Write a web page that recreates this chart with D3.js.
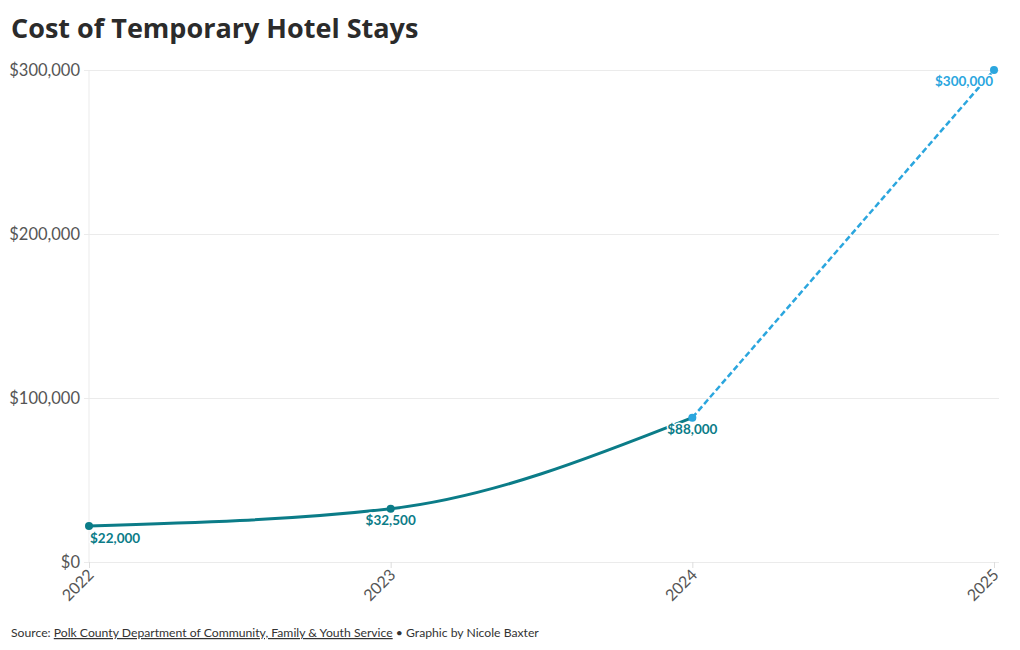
<!DOCTYPE html>
<html>
<head>
<meta charset="utf-8">
<script src="https://cdn.jsdelivr.net/npm/d3@7/dist/d3.min.js"></script>
<style>
  body { margin: 0; background: #fff; }
  svg { display: block; }
</style>
</head>
<body>
<svg id="chart" width="1020" height="650"></svg>
<script>
// data
const years = ["2022", "2023", "2024", "2025"];
const costs = [22000, 32500, 88000, 300000];
const yTicks = [0, 100000, 200000, 300000];
// index where the projected (dashed) part begins
const projectedFrom = 2;

const teal = "#0b7c88";
const blue = "#2ba6de";

var margin = { top: 70, right: 26, bottom: 88, left: 89 },
    width = 1020 - margin.left - margin.right,
    height = 650 - margin.top - margin.bottom;

const svg = d3.select("#chart");

svg.append("text")
    .attr("x", 11)
    .attr("y", 38)
    .text("Cost of Temporary Hotel Stays")
    .style("font-family", "'Open Sans', sans-serif")
    .style("font-size", "27px")
    .style("font-weight", "bold")
    .style("fill", "#2b2b2b");

const g = svg.append("g")
    .attr("transform", `translate(${margin.left}, ${margin.top})`);

const x = d3.scalePoint().domain(years).range([0, width]);
const y = d3.scaleLinear().domain([0, 300000]).range([height, 0]);

const data = years.map((yr, i) => ({ year: yr, value: costs[i], i: i }));

// grid
g.append("g")
    .call(d3.axisLeft(y).tickValues(yTicks).tickSize(-width - 5).tickFormat(d3.format("$,")))
    .call(a => a.select(".domain").remove())
    .call(a => a.selectAll(".tick line").attr("stroke", "#ebebeb").attr("x1", -5))
    .call(a => a.selectAll(".tick text")
        .attr("x", -9)
        .attr("dy", "0.35em")
        .style("font-family", "Lato, sans-serif")
        .style("font-size", "16.5px")
        .style("fill", "#555"));

g.append("line")
    .attr("x1", 0).attr("x2", 0)
    .attr("y1", 0).attr("y2", height)
    .attr("stroke", "#ebebeb");

g.append("g")
    .attr("transform", `translate(0, ${height})`)
    .call(d3.axisBottom(x).tickSize(6))
    .call(a => a.select(".domain").remove())
    .call(a => a.selectAll(".tick line").attr("stroke", "#ddd"))
    .call(a => a.selectAll(".tick text")
        .attr("text-anchor", "end")
        .attr("transform", "rotate(-45)")
        .attr("x", -6)
        .attr("y", 8)
        .attr("dy", "0.35em")
        .style("font-family", "Lato, sans-serif")
        .style("font-size", "16px")
        .style("fill", "#555"));

// lines
const line = d3.line()
    .x(d => x(d.year))
    .y(d => y(d.value))
    .curve(d3.curveMonotoneX);

g.append("path")
    .datum(data.slice(0, projectedFrom + 1))
    .attr("fill", "none")
    .attr("stroke", teal)
    .attr("stroke-width", 3)
    .attr("d", line);

g.append("path")
    .datum(data.slice(projectedFrom))
    .attr("fill", "none")
    .attr("stroke", blue)
    .attr("stroke-width", 2.5)
    .attr("stroke-dasharray", "6,3")
    .attr("d", d3.line().x(d => x(d.year)).y(d => y(d.value)));

g.selectAll("circle.pt")
    .data(data)
    .enter()
    .append("circle")
    .attr("class", "pt")
    .attr("cx", d => x(d.year))
    .attr("cy", d => y(d.value))
    .attr("r", 4)
    .attr("fill", d => d.i >= projectedFrom ? blue : teal);

// value labels
const labelPos = [
    { dx: 1, dy: 17, anchor: "start" },
    { dx: 0, dy: 16, anchor: "middle" },
    { dx: 0, dy: 16, anchor: "middle" },
    { dx: -1, dy: 16, anchor: "end" }
];

g.selectAll("text.val")
    .data(data)
    .enter()
    .append("text")
    .attr("class", "val")
    .attr("x", d => x(d.year) + labelPos[d.i].dx)
    .attr("y", d => y(d.value) + labelPos[d.i].dy)
    .attr("text-anchor", d => labelPos[d.i].anchor)
    .text(d => d3.format("$,")(d.value))
    .style("font-family", "Lato, sans-serif")
    .style("font-size", "13.5px")
    .style("font-weight", "bold")
    .style("fill", d => d.i === years.length - 1 ? blue : teal)
    .style("paint-order", "stroke")
    .style("stroke", "#fff")
    .style("stroke-width", "3px");

// source
const src = svg.append("text")
    .attr("x", 11)
    .attr("y", 637)
    .style("font-family", "Lato, sans-serif")
    .style("font-size", "12.2px")
    .style("fill", "#333");
src.append("tspan").text("Source: ");
src.append("tspan").text("Polk County Department of Community, Family & Youth Service")
    .style("text-decoration", "underline");
src.append("tspan").text(" \u2022 Graphic by Nicole Baxter");
</script>
</body>
</html>
